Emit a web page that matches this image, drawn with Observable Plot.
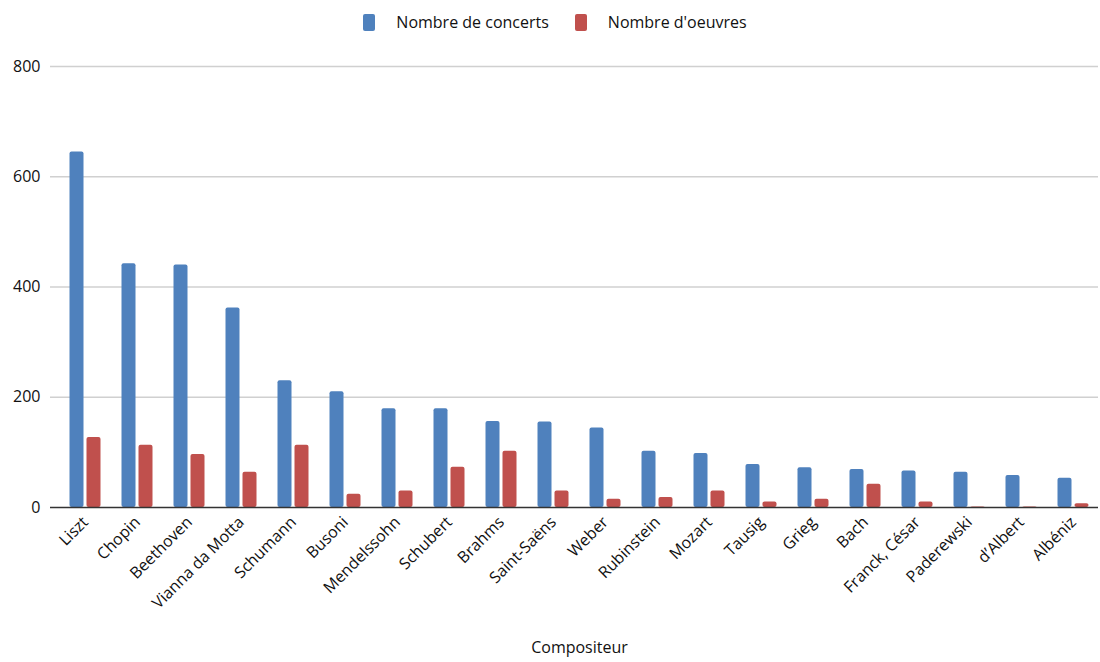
<!DOCTYPE html>
<html><head><meta charset="utf-8">
<script src="https://cdn.jsdelivr.net/npm/d3@7"></script>
<script src="https://cdn.jsdelivr.net/npm/@observablehq/plot@0.6"></script>
<style>
body{margin:0;background:#fff;font-family:"Open Sans",sans-serif;}
#legend{height:44px;display:flex;justify-content:center;align-items:center;font-size:16px;color:#111;padding-left:10px;}
.item{display:flex;align-items:center;margin:0 13px;}
.sw{width:12px;height:17px;border-radius:2px;margin-right:21px;}
</style></head>
<body>
<div id="legend"></div>
<div id="chart"></div>
<script>
const composers = ["Liszt","Chopin","Beethoven","Vianna da Motta","Schumann","Busoni","Mendelssohn","Schubert","Brahms","Saint-Saëns","Weber","Rubinstein","Mozart","Tausig","Grieg","Bach","Franck, César","Paderewski","d’Albert","Albéniz"];
const concerts = [645,442,440,362,230,210,179,179,156,155,144,102,98,78,72,69,66,64,58,53];
const oeuvres = [127,113,96,64,113,24,30,73,102,30,15,18,30,10,15,42,10,1,1,7];
const seriesNames = ["Nombre de concerts","Nombre d'oeuvres"];
const colors = ["#4F81BD","#C0504D"];
const yTicks = [0,200,400,600,800];

const legend = document.getElementById("legend");
seriesNames.forEach((s,i)=>{
  const d = document.createElement("div"); d.className="item";
  d.innerHTML = `<span class="sw" style="background:${colors[i]}"></span><span>${s}</span>`;
  legend.appendChild(d);
});

const rowsC = composers.map((c,i)=>({composer:c, value:concerts[i]}));
const rowsO = composers.map((c,i)=>({composer:c, value:oeuvres[i]}));

const chart = Plot.plot({
  width: 1100,
  height: 618,
  marginTop: 22,
  marginBottom: 155,
  marginLeft: 50,
  marginRight: 2,
  style: {fontFamily: "Open Sans, sans-serif", fontSize: "16px", color: "#111"},
  x: {domain: composers, range: [59, 1099], padding: 0},
  y: {domain: [0, 800], ticks: yTicks},
  marks: [
    Plot.ruleY(yTicks.slice(1), {stroke: "#d0d0d0", strokeWidth: 1.5}),
    Plot.barY(rowsC, {x: "composer", y: "value", fill: colors[0], insetLeft: 19, insetRight: 19, dx: -8.5, rx: 2}),
    Plot.barY(rowsO, {x: "composer", y: "value", fill: colors[1], insetLeft: 19, insetRight: 19, dx: 8.5, rx: 2}),
    Plot.ruleY([0], {stroke: "#333", strokeWidth: 1.5}),
    Plot.axisY({ticks: yTicks, tickSize: 0, tickPadding: 10, label: null, fontSize: 16}),
    Plot.axisX({tickRotate: -45, tickSize: 0, tickPadding: 12, label: null, fontSize: 16}),
    Plot.text(["Compositeur"], {frameAnchor: "bottom", dy: 145, dx: 5, fontSize: 16, fill: "#111"})
  ]
});
chart.querySelectorAll("g[aria-label='x-axis tick label'] text, g[aria-label='y-axis tick label'] text").forEach(t=>t.setAttribute("font-size","16"));
document.getElementById("chart").appendChild(chart);
</script>
</body></html>
